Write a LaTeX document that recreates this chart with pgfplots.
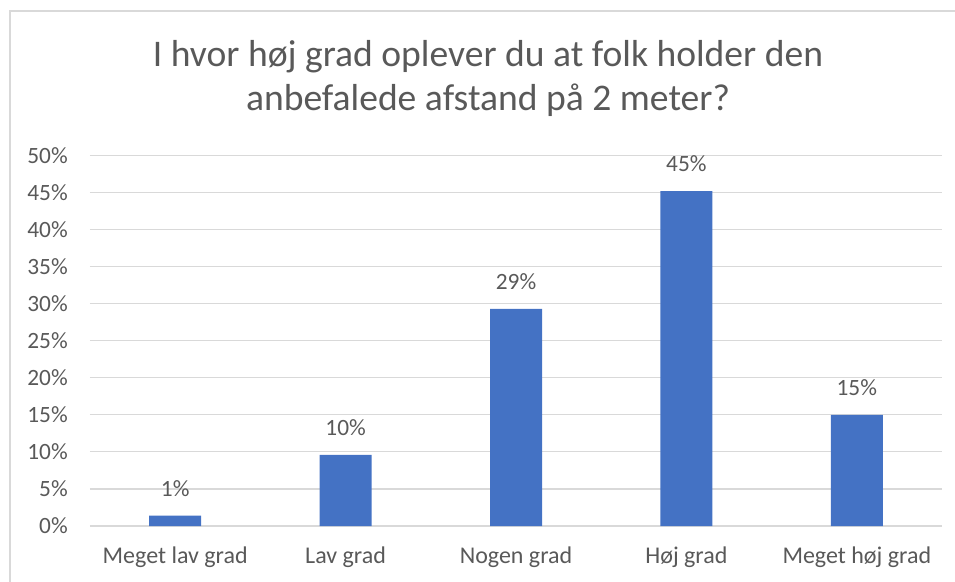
\documentclass[border=0pt]{standalone}
\usepackage{fontspec}
\setmainfont{Carlito}
\usepackage{pgfplots}
\pgfplotsset{compat=1.18}
\definecolor{barblue}{RGB}{68,114,196}
\definecolor{txtgray}{RGB}{89,89,89}
\definecolor{gridgray}{RGB}{217,217,217}

\begin{document}
\begin{tikzpicture}
\useasboundingbox (-67.5pt,-41.25pt) rectangle (648.75pt,394.5pt);
\draw[gridgray,line width=1.5pt] (-60pt,-45pt) -- (-60pt,386.25pt) -- (652pt,386.25pt);
\begin{axis}[
  at={(0,0)},anchor=south west,
  scale only axis,width=639pt,height=277.9pt,
  xmin=-0.5,xmax=4.5,ymin=0,ymax=50,
  xtick=data,
  xticklabels={Meget lav grad,Lav grad,Nogen grad,Høj grad,Meget høj grad},
  ytick={0,5,...,50},
  yticklabel={\pgfmathprintnumber{\tick}\%},
  /pgf/number format/assume math mode=true,
  major tick length=0pt,
  axis line style={draw=none},
  ymajorgrids,grid style={gridgray,line width=0.9pt},
  tick label style={font=\fontsize{17.5pt}{21pt}\selectfont,text=txtgray,inner sep=0pt},
  yticklabel style={anchor=east,xshift=-16.5pt},
  xticklabel style={anchor=base,yshift=-27.75pt,font=\fontsize{18pt}{21pt}\selectfont},
  ybar,bar width=39pt,
  point meta=explicit symbolic,
  nodes near coords,
  every node near coord/.append style={font=\fontsize{17.5pt}{21pt}\selectfont,text=txtgray,inner sep=0pt,yshift=14.25pt},
]
\addplot[fill=barblue,draw=none] coordinates
  {(0,1.4) [1\%] (1,9.6) [10\%] (2,29.3) [29\%] (3,45.2) [45\%] (4,15.0) [15\%]};
\end{axis}
\node[anchor=base,text=txtgray,font=\fontsize{28.2pt}{33pt}\selectfont] at (298.5pt,344.25pt) {I hvor høj grad oplever du at folk holder den};
\node[anchor=base,text=txtgray,font=\fontsize{28.2pt}{33pt}\selectfont] at (298.5pt,311.25pt) {anbefalede afstand på 2 meter?};
\end{tikzpicture}
\end{document}
